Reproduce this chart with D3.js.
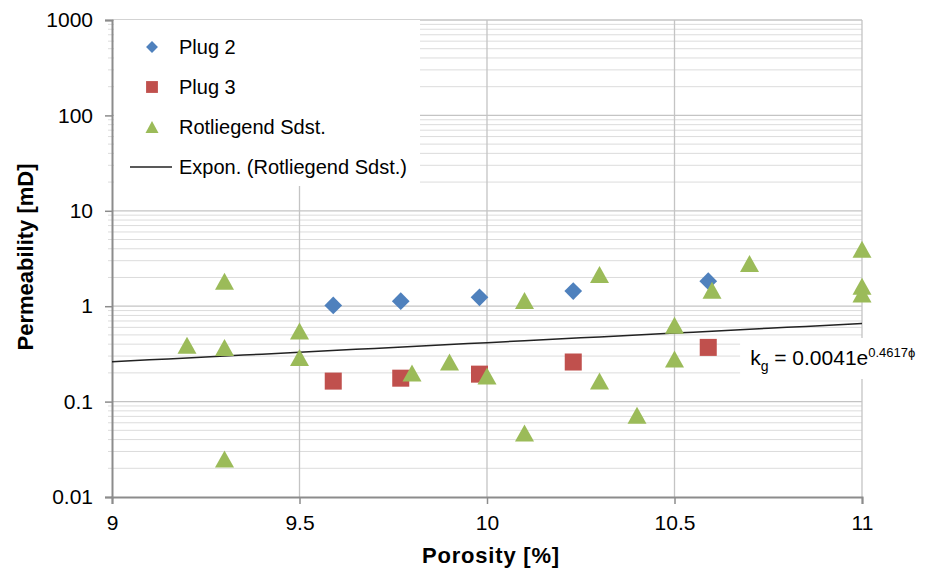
<!DOCTYPE html>
<html>
<head>
<meta charset="utf-8">
<script src="https://cdn.jsdelivr.net/npm/d3@7"></script>
<style>
  body { margin: 0; background: #fff; }
  text { font-family: "Liberation Sans", Arial, sans-serif; }
</style>
</head>
<body>
<div id="chart"></div>
<script>
// data
var plug2X = [9.59, 9.77, 9.98, 10.23, 10.59];
var plug2Y = [1.02, 1.13, 1.24, 1.44, 1.83];

var plug3X = [9.59, 9.77, 9.98, 10.23, 10.59];
var plug3Y = [0.164, 0.176, 0.194, 0.26, 0.37];

var rotX = [9.2, 9.3, 9.3, 9.3, 9.5, 9.5, 9.8, 9.9, 10.0, 10.1, 10.1, 10.3, 10.3, 10.4, 10.5, 10.5, 10.6, 10.7, 11, 11, 11];
var rotY = [0.39, 1.83, 0.37, 0.025, 0.55, 0.29, 0.2, 0.26, 0.185, 1.15, 0.047, 2.15, 0.164, 0.072, 0.63, 0.28, 1.47, 2.8, 3.95, 1.62, 1.34];

// exponential trend line coefficients (k = a * e^(b*phi))
var trendA = 0.0041;
var trendB = 0.4617;

var xTicks = [9, 9.5, 10, 10.5, 11];
var yTicks = [0.01, 0.1, 1, 10, 100, 1000];

var svgWidth = 936;
var svgHeight = 575;
var margin = {top: 20, right: 74, bottom: 78, left: 112};
var chartWidth = svgWidth - margin.left - margin.right;
var chartHeight = svgHeight - margin.top - margin.bottom;

var svg = d3.select("#chart").append("svg")
    .attr("width", svgWidth)
    .attr("height", svgHeight);

var chartGroup = svg.append("g")
    .attr("transform", `translate(${margin.left}, ${margin.top})`);

var xScale = d3.scaleLinear().domain([9, 11]).range([0, chartWidth]);
var yScale = d3.scaleLog().domain([0.01, 1000]).range([chartHeight, 0]);

// minor values for log grid
var minorVals = [];
for (var d = 0.01; d < 1000; d *= 10) {
    for (var m = 2; m <= 9; m++) minorVals.push(+(d * m).toPrecision(3));
}

// horizontal grid
chartGroup.append("g").selectAll("line.minor")
    .data(minorVals)
    .enter().append("line")
    .attr("x1", 0).attr("x2", chartWidth)
    .attr("y1", d => yScale(d)).attr("y2", d => yScale(d))
    .attr("stroke", "#dcdcdc").attr("stroke-width", 1);

chartGroup.append("g").selectAll("line.major")
    .data(yTicks.slice(1))
    .enter().append("line")
    .attr("x1", 0).attr("x2", chartWidth)
    .attr("y1", d => yScale(d)).attr("y2", d => yScale(d))
    .attr("stroke", "#c4c4c4").attr("stroke-width", 1.3);

// vertical grid
chartGroup.append("g").selectAll("line.vgrid")
    .data(xTicks.slice(1))
    .enter().append("line")
    .attr("x1", d => xScale(d)).attr("x2", d => xScale(d))
    .attr("y1", 0).attr("y2", chartHeight)
    .attr("stroke", "#c4c4c4").attr("stroke-width", 1.3);

// y minor tick marks
chartGroup.append("g").selectAll("line.ymt")
    .data(minorVals)
    .enter().append("line")
    .attr("x1", -4).attr("x2", 0)
    .attr("y1", d => yScale(d)).attr("y2", d => yScale(d))
    .attr("stroke", "#dcdcdc");

// axes
var yAxis = d3.axisLeft(yScale).tickValues(yTicks).tickSize(7).tickPadding(12)
    .tickFormat(d => d >= 1 ? d3.format("d")(d) : String(d));
var xAxis = d3.axisBottom(xScale).tickValues(xTicks).tickSize(7).tickPadding(11)
    .tickFormat(d => String(d));

var yG = chartGroup.append("g").call(yAxis);
var xG = chartGroup.append("g").attr("transform", `translate(0, ${chartHeight})`).call(xAxis);
[yG, xG].forEach(function(g) {
    g.select(".domain").attr("stroke", "#8c8c8c").attr("stroke-width", 2);
    g.selectAll(".tick line").attr("stroke", "#8c8c8c").attr("stroke-width", 1.5);
    g.selectAll(".tick text").attr("fill", "#000")
        .style("font-size", "21px")
        .style("font-family", "'Liberation Sans', Arial, sans-serif");
});

// trend line
var trendPts = d3.range(0, 41).map(i => 9 + i * 0.05);
chartGroup.append("path")
    .datum(trendPts)
    .attr("fill", "none")
    .attr("stroke", "#222")
    .attr("stroke-width", 1.5)
    .attr("d", d3.line().x(d => xScale(d)).y(d => yScale(trendA * Math.exp(trendB * d))));

// markers
var diamond = d3.symbol().type(d3.symbolDiamond2).size(200);
var square = d3.symbol().type(d3.symbolSquare).size(290);
function triPath(w, h) {
    return `M0,${-h / 2}L${w / 2},${h / 2}L${-w / 2},${h / 2}Z`;
}

function drawSeries(xs, ys, sym, color) {
    chartGroup.append("g").selectAll("path")
        .data(xs.map((x, i) => [x, ys[i]]))
        .enter().append("path")
        .attr("d", sym)
        .attr("transform", d => `translate(${xScale(d[0])}, ${yScale(d[1])})`)
        .attr("fill", color);
}
drawSeries(plug2X, plug2Y, diamond, "#4f81bd");
drawSeries(plug3X, plug3Y, square, "#c0504d");
drawSeries(rotX, rotY, triPath(19, 17), "#9bbb59");

// legend
var legend = chartGroup.append("g");
legend.append("rect")
    .attr("x", 2).attr("y", 0).attr("width", 306).attr("height", 166)
    .attr("fill", "#fff");
var legendItems = [
    {label: "Plug 2", sym: d3.symbol().type(d3.symbolDiamond2).size(90), color: "#4f81bd"},
    {label: "Plug 3", sym: d3.symbol().type(d3.symbolSquare).size(140), color: "#c0504d"},
    {label: "Rotliegend Sdst.", sym: triPath(13, 12), color: "#9bbb59"},
    {label: "Expon. (Rotliegend Sdst.)", sym: null, color: "#222"}
];
legendItems.forEach(function(item, i) {
    var ly = 27 + i * 40;
    if (item.sym) {
        legend.append("path").attr("d", item.sym)
            .attr("transform", `translate(40, ${ly})`)
            .attr("fill", item.color);
    } else {
        legend.append("line").attr("x1", 18).attr("x2", 60)
            .attr("y1", ly).attr("y2", ly)
            .attr("stroke", item.color).attr("stroke-width", 1.5);
    }
    legend.append("text")
        .attr("x", 67).attr("y", ly + 7)
        .style("font-size", "20px")
        .text(item.label);
});

// equation label
var eqG = chartGroup.append("g");
eqG.append("rect")
    .attr("x", xScale(10.675)).attr("y", 318)
    .attr("width", 192).attr("height", 41)
    .attr("fill", "#fff");
var eq = eqG.append("text")
    .attr("x", xScale(10.675) + 10).attr("y", 345)
    .style("font-size", "21px");
eq.append("tspan").text("k");
eq.append("tspan").attr("dy", 6).style("font-size", "14px").text("g");
eq.append("tspan").attr("dy", -6).text(" = 0.0041e");
eq.append("tspan").attr("dy", -8).style("font-size", "13px").text("0.4617ϕ");

// axis titles
chartGroup.append("text")
    .attr("transform", "rotate(-90)")
    .attr("x", -(257 - margin.top))
    .attr("y", -margin.left + 33)
    .attr("text-anchor", "middle")
    .style("font-weight", "bold")
    .style("font-size", "22px")
    .text("Permeability [mD]");

chartGroup.append("text")
    .attr("x", 491 - margin.left)
    .attr("y", 563 - margin.top)
    .attr("text-anchor", "middle")
    .style("font-weight", "bold")
    .style("font-size", "22px")
    .style("letter-spacing", "0.8px")
    .text("Porosity [%]");
</script>
</body>
</html>
